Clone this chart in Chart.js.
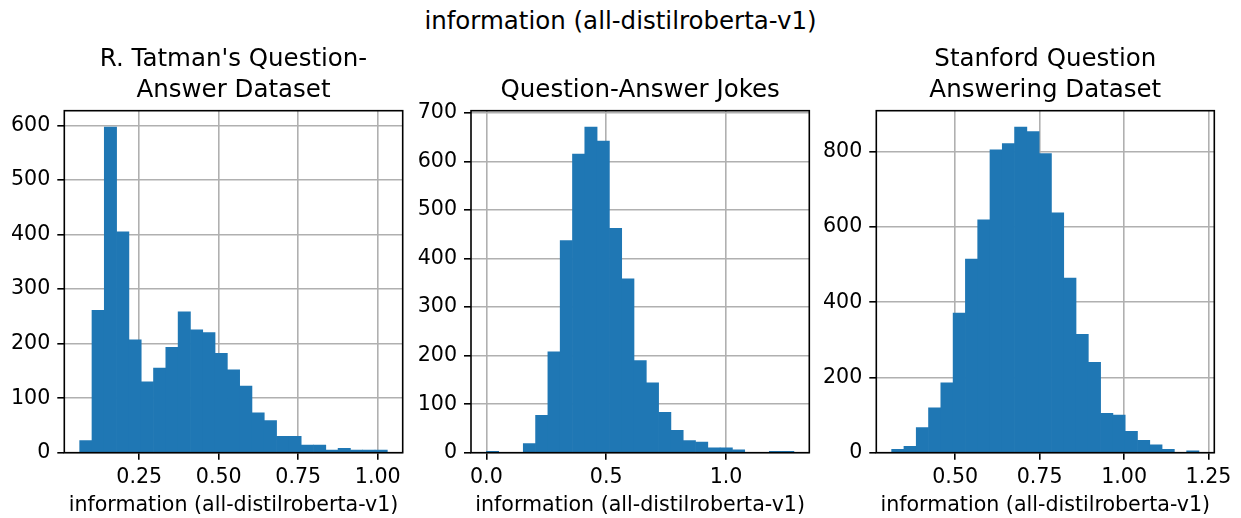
<!DOCTYPE html>
<html>
<head>
<meta charset="utf-8">
<script src="https://cdn.jsdelivr.net/npm/chart.js@4.4.1/dist/chart.umd.min.js"></script>
<style>
  body { margin: 0; background: #fff; width: 1241px; height: 518px; overflow: hidden; position: relative; font-family: "DejaVu Sans"; }
  #suptitle { position: absolute; left: 0; top: 5.5px; width: 1241px; text-align: center; font-size: 24.5px; line-height: 29px; color: #000; }
  .panel { position: absolute; top: 0; height: 518px; }
  .panel canvas { display: block; }
</style>
</head>
<body>
<div id="suptitle">information (all-distilroberta-v1)</div>
<div class="panel" style="left:0px;width:420px"><canvas id="c1" width="420" height="518"></canvas></div>
<div class="panel" style="left:400px;width:420px"><canvas id="c2" width="420" height="518"></canvas></div>
<div class="panel" style="left:810px;width:431px"><canvas id="c3" width="431" height="518"></canvas></div>
<script>
// histogram counts (25 bins each)
const tatmanCounts = [22, 261, 597, 405, 207, 130, 155, 193, 258, 225, 220, 182, 152, 122, 73, 59, 30, 30, 14, 14, 5, 8, 5, 5, 5];
const jokesCounts = [3, 0, 0, 19, 77, 208, 437, 615, 671, 642, 462, 358, 190, 144, 83, 46, 25, 22, 10, 10, 6, 0, 0, 3, 3];
const squadCounts = [9, 17, 67, 119, 186, 371, 515, 619, 805, 822, 866, 854, 795, 638, 464, 315, 240, 105, 100, 57, 33, 21, 9, 0, 5];

// data range covered by the bins
const tatmanRange = [0.0627, 1.030];
const jokesRange = [0.0, 1.283];
const squadRange = [0.312, 1.2216];

// tick labels
const tatmanXTicks = ['0.25', '0.50', '0.75', '1.00'];
const jokesXTicks = ['0.0', '0.5', '1.0'];
const squadXTicks = ['0.50', '0.75', '1.00', '1.25'];
const tatmanYTicks = [0, 100, 200, 300, 400, 500, 600];
const jokesYTicks = [0, 100, 200, 300, 400, 500, 600, 700];
const squadYTicks = [0, 200, 400, 600, 800];

const titles = [
    ["R. Tatman's Question-", "Answer Dataset"],
    ["Question-Answer Jokes"],
    ["Stanford Question", "Answering Dataset"]
];
const xLabel = 'information (all-distilroberta-v1)';

const FONT = 'DejaVu Sans';
const TICK_SIZE = 20.6;
const AXES_TOP = 110.7;
const TITLE_SIZE = 24.5, TITLE_LH = 1.25, TITLE_PAD = 4.7;

// box round the plot area, like matplotlib spines
const spines = {
    id: 'spines',
    afterDraw(chart) {
        const { ctx, chartArea: a } = chart;
        ctx.save();
        ctx.strokeStyle = '#000';
        ctx.lineWidth = 1.6;
        ctx.strokeRect(a.left, a.top, a.right - a.left, a.bottom - a.top);
        ctx.restore();
    }
};

const makePanel = (id, counts, range, xTicks, yTicks, title, yWidth, padRight) => {
    const [lo, hi] = range;
    const w = (hi - lo) / counts.length;
    const pts = counts.map((c, i) => ({ x: lo + (i + 0.5) * w, y: c }));
    const margin = 0.05 * (hi - lo);
    const yMax = 1.05 * Math.max(...counts);
    const padTop = AXES_TOP - title.length * TITLE_SIZE * TITLE_LH - TITLE_PAD;

    new Chart(document.getElementById(id).getContext('2d'), {
        type: 'bar',
        data: {
            datasets: [{
                data: pts,
                backgroundColor: '#1f77b4',
                borderWidth: 0,
                barPercentage: 1,
                categoryPercentage: 1
            }]
        },
        options: {
            responsive: false,
            animation: false,
            devicePixelRatio: 1,
            layout: { padding: { top: padTop, left: 0, right: padRight, bottom: 0 } },
            plugins: {
                legend: { display: false },
                tooltip: { enabled: false },
                title: {
                    display: true,
                    text: title,
                    fullSize: false,
                    color: '#000',
                    font: { family: FONT, size: TITLE_SIZE, lineHeight: TITLE_LH, weight: 'normal' },
                    padding: { top: 0, bottom: TITLE_PAD }
                }
            },
            scales: {
                x: {
                    type: 'linear',
                    offset: false,
                    bounds: 'data',
                    min: lo - margin,
                    max: hi + margin,
                    z: 1,
                    afterBuildTicks: (axis) => { axis.ticks = xTicks.map(t => ({ value: parseFloat(t) })); },
                    afterFit: (axis) => { axis.height = 65.3; },
                    grid: { offset: false, color: '#b0b0b0', lineWidth: 1.6, tickColor: '#000', tickWidth: 1.6, tickLength: 7 },
                    border: { display: false },
                    ticks: {
                        autoSkip: false, maxRotation: 0, minRotation: 0, padding: 5.5,
                        color: '#000', font: { family: FONT, size: TICK_SIZE },
                        callback: (v, i) => xTicks[i]
                    },
                    title: {
                        display: true, text: xLabel, color: '#000',
                        font: { family: FONT, size: TICK_SIZE }, padding: { top: 0, bottom: 0 }
                    }
                },
                y: {
                    min: 0,
                    max: yMax,
                    bounds: 'data',
                    z: 1,
                    afterBuildTicks: (axis) => { axis.ticks = yTicks.map(v => ({ value: v })); },
                    afterFit: (axis) => { axis.width = yWidth; },
                    grid: { color: '#b0b0b0', lineWidth: 1.6, tickColor: '#000', tickWidth: 1.6, tickLength: 7 },
                    border: { display: false },
                    ticks: {
                        autoSkip: false, padding: 7,
                        color: '#000', font: { family: FONT, size: TICK_SIZE },
                        callback: (v) => String(v)
                    }
                }
            }
        },
        plugins: [spines]
    });
};

makePanel('c1', tatmanCounts, tatmanRange, tatmanXTicks, tatmanYTicks, titles[0], 64.3, 17.3);
makePanel('c2', jokesCounts, jokesRange, jokesXTicks, jokesYTicks, titles[1], 71, 10.7);
makePanel('c3', squadCounts, squadRange, squadXTicks, squadYTicks, titles[2], 66.3, 26.7);
</script>
</body>
</html>
